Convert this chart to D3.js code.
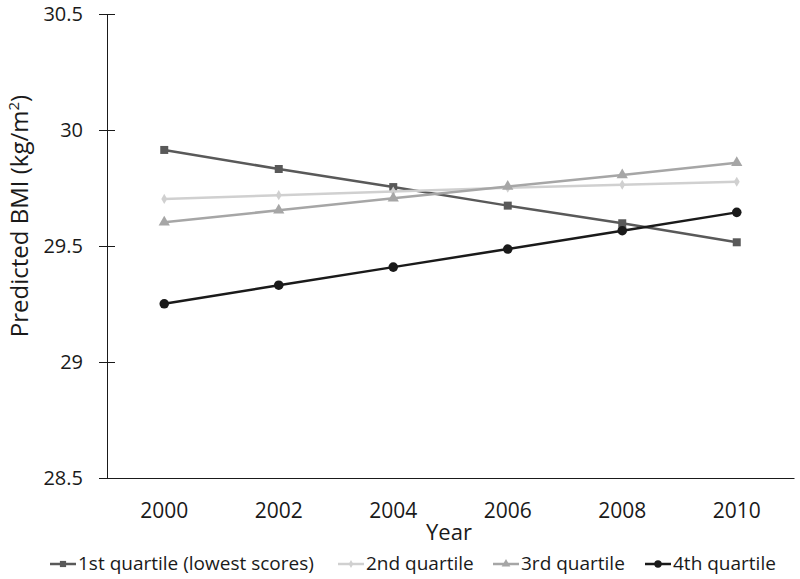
<!DOCTYPE html>
<html>
<head>
<meta charset="utf-8">
<script src="https://cdn.jsdelivr.net/npm/d3@7"></script>
<style>
  body { margin: 0; background: #fff; }
  text { font-family: "Open Sans", sans-serif; fill: #1a1a1a; }
</style>
</head>
<body>
<svg id="chart" width="800" height="579"></svg>
<script>
const years = ["2000", "2002", "2004", "2006", "2008", "2010"];
const yTicks = [28.5, 29, 29.5, 30, 30.5];
const q1 = [29.914, 29.832, 29.754, 29.674, 29.598, 29.516];
const q2 = [29.703, 29.719, 29.735, 29.751, 29.764, 29.777];
const q3 = [29.602, 29.654, 29.706, 29.756, 29.806, 29.859];
const q4 = [29.251, 29.331, 29.409, 29.487, 29.566, 29.645];
const seriesNames = ["1st quartile (lowest scores)", "2nd quartile", "3rd quartile", "4th quartile"];

const series = [
  { name: seriesNames[0], values: q1, color: "#595959", symbol: d3.symbolSquare, size: 64, width: 2.5 },
  { name: seriesNames[1], values: q2, color: "#d0d0d0", symbol: d3.symbolDiamond, size: 30, width: 2.5 },
  { name: seriesNames[2], values: q3, color: "#a6a6a6", symbol: d3.symbolTriangle, size: 55, width: 2.5 },
  { name: seriesNames[3], values: q4, color: "#1a1a1a", symbol: d3.symbolCircle, size: 72, width: 2.5 }
];

const svg = d3.select("#chart");
const mLeft = 107, mRight = 794, mTop = 14, mBottom = 478;

const x = d3.scaleBand().domain(years).range([mLeft, mRight]).padding(0);
const y = d3.scaleLinear().domain([28.5, 30.5]).range([mBottom, mTop]);

// Y axis
const yAxis = svg.append("g").attr("transform", `translate(${mLeft},0)`)
  .call(d3.axisLeft(y).tickValues(yTicks).tickFormat(d3.format("")).tickSizeInner(7).tickSizeOuter(0).tickPadding(17));
yAxis.select(".domain").attr("stroke", "#1a1a1a").attr("stroke-width", 1);
yAxis.selectAll(".tick line").attr("stroke", "#1a1a1a").attr("x2", 8).attr("x1", -8);
yAxis.selectAll(".tick text").style("font-size", "20px").attr("fill", "#1a1a1a").style("font-family", "'Open Sans', sans-serif");

// X axis
const xAxis = svg.append("g").attr("transform", `translate(0,${mBottom})`)
  .call(d3.axisBottom(x).tickSize(0).tickPadding(25));
xAxis.select(".domain").attr("stroke", "#1a1a1a").attr("stroke-width", 1);
xAxis.selectAll(".tick text").style("font-size", "21px").attr("fill", "#1a1a1a").style("font-family", "'Open Sans', sans-serif");

// Axis titles
svg.append("text").attr("x", 449).attr("y", 540).attr("text-anchor", "middle")
  .style("font-size", "22px").text("Year");
svg.append("text").attr("transform", "translate(28,216) rotate(-90)").attr("text-anchor", "middle")
  .style("font-size", "24px")
  .html('Predicted BMI (kg/m<tspan dy="-9" style="font-size:15px">2</tspan><tspan dy="9">)</tspan>');

// Lines and markers
const line = d3.line().x((d, i) => x(years[i]) + x.bandwidth() / 2).y(d => y(d));
series.forEach(s => {
  svg.append("path").datum(s.values).attr("d", line)
    .attr("fill", "none").attr("stroke", s.color).attr("stroke-width", s.width);
  svg.selectAll(null).data(s.values).enter().append("path")
    .attr("d", d3.symbol().type(s.symbol).size(s.size))
    .attr("transform", (d, i) => `translate(${x(years[i]) + x.bandwidth() / 2},${y(d)})`)
    .attr("fill", s.color);
});

// Legend
const legendX = [50, 338, 493, 645];
const legendY = 564;
series.forEach((s, i) => {
  const g = svg.append("g").attr("transform", `translate(${legendX[i]},${legendY})`);
  g.append("line").attr("x1", 0).attr("x2", 26).attr("y1", 0).attr("y2", 0)
    .attr("stroke", s.color).attr("stroke-width", 2.5);
  g.append("path").attr("d", d3.symbol().type(s.symbol).size(s.size * 0.6))
    .attr("transform", "translate(13,0)").attr("fill", s.color);
  g.append("text").attr("x", 28).attr("y", 6).style("font-size", "19px").text(s.name);
});
</script>
</body>
</html>
